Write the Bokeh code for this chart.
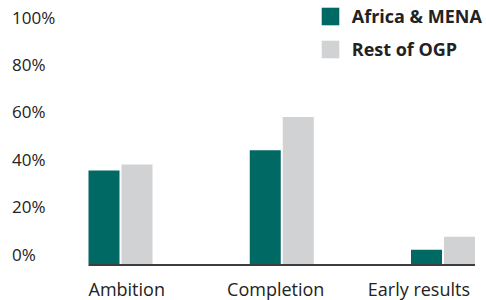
from bokeh.plotting import figure
from bokeh.models import ColumnDataSource, Range1d, Legend, LegendItem, Label
from bokeh.core.properties import value
from bokeh.embed import file_html
from bokeh.resources import INLINE

# ---- data ----
categories = ["Ambition", "Completion", "Early results"]
africa_mena = [39.5, 48.0, 6.0]
rest_of_ogp = [42.0, 62.0, 11.5]
series_names = ["Africa & MENA", "Rest of OGP"]
y_ticks = [0, 20, 40, 60, 80, 100]
y_tick_labels = ["0%", "20%", "40%", "60%", "80%", "100%"]

# ---- layout / style ----
W, H = 486, 300
FRAME_H = H
PX_PER_CAT = 161.25
FIRST_CENTER_PX = 120
PX_PER_PCT = 2.37
ZERO_PX_FROM_BOTTOM = 36.5
TEAL = "#006964"
GREY = "#d1d2d4"
TEXT = "#222222"
FONT = "Open Sans"

x_start = -FIRST_CENTER_PX / PX_PER_CAT
x_end = x_start + W / PX_PER_CAT
y_start = -ZERO_PX_FROM_BOTTOM / PX_PER_PCT
y_end = y_start + FRAME_H / PX_PER_PCT

bar_w = 31 / PX_PER_CAT
off = 16.5 / PX_PER_CAT
idx = list(range(len(categories)))

src = ColumnDataSource(dict(
    xa=[i - off for i in idx],
    xr=[i + off for i in idx],
    africa=africa_mena,
    rest=rest_of_ogp,
))

p = figure(width=W, height=H, x_range=Range1d(x_start, x_end),
           y_range=Range1d(y_start, y_end), x_axis_type=None, y_axis_type=None,
           output_backend="svg", toolbar_location=None,
           min_border_left=0, min_border_right=0, min_border_top=0,
           min_border_bottom=0)
p.outline_line_color = None
p.background_fill_color = "white"

r_a = p.vbar(x="xa", top="africa", bottom=0, width=bar_w, source=src,
             fill_color=TEAL, line_color=None)
r_r = p.vbar(x="xr", top="rest", bottom=0, width=bar_w, source=src,
             fill_color=GREY, line_color=None)

# baseline under the bars
p.segment(x0=[idx[0] - off - bar_w / 2], x1=[idx[-1] + off + bar_w / 2],
          y0=[-1 / PX_PER_PCT], y1=[-1 / PX_PER_PCT],
          line_color="#3d3d3d", line_width=2)

# y tick labels (sit just above their value line)
p.text(x=[x_start + 11.5 / PX_PER_CAT] * len(y_ticks), y=y_ticks, text=y_tick_labels,
       text_align="left", text_baseline="middle", y_offset=-10,
       text_font=value(FONT), text_font_size="17px", text_color=TEXT)

# category labels
aligns = ["left", "center", "right"]
anchors = [idx[0] - off - bar_w / 2, idx[1], idx[2] + off + bar_w / 2]
x_offsets = [0, -6, -5]
for cat, al, ax, xo in zip(categories, aligns, anchors, x_offsets):
    p.add_layout(Label(x=ax, y=-24.5 / PX_PER_PCT, text=cat, text_align=al,
                       text_baseline="middle", x_offset=xo,
                       text_font=FONT, text_font_size="18px", text_color=TEXT))

legend = Legend(items=[LegendItem(label=series_names[0], renderers=[r_a]),
                       LegendItem(label=series_names[1], renderers=[r_r])],
                location=(318.75, 238.75), orientation="vertical",
                glyph_width=22, glyph_height=22, label_standoff=11,
                label_height=22, spacing=9, padding=0, margin=0,
                border_line_color=None, background_fill_alpha=0,
                label_text_font=FONT, label_text_font_style="bold",
                label_text_font_size="18px", label_text_color=TEXT)
p.add_layout(legend)

open("out.html", "w").write(file_html(p, INLINE))
